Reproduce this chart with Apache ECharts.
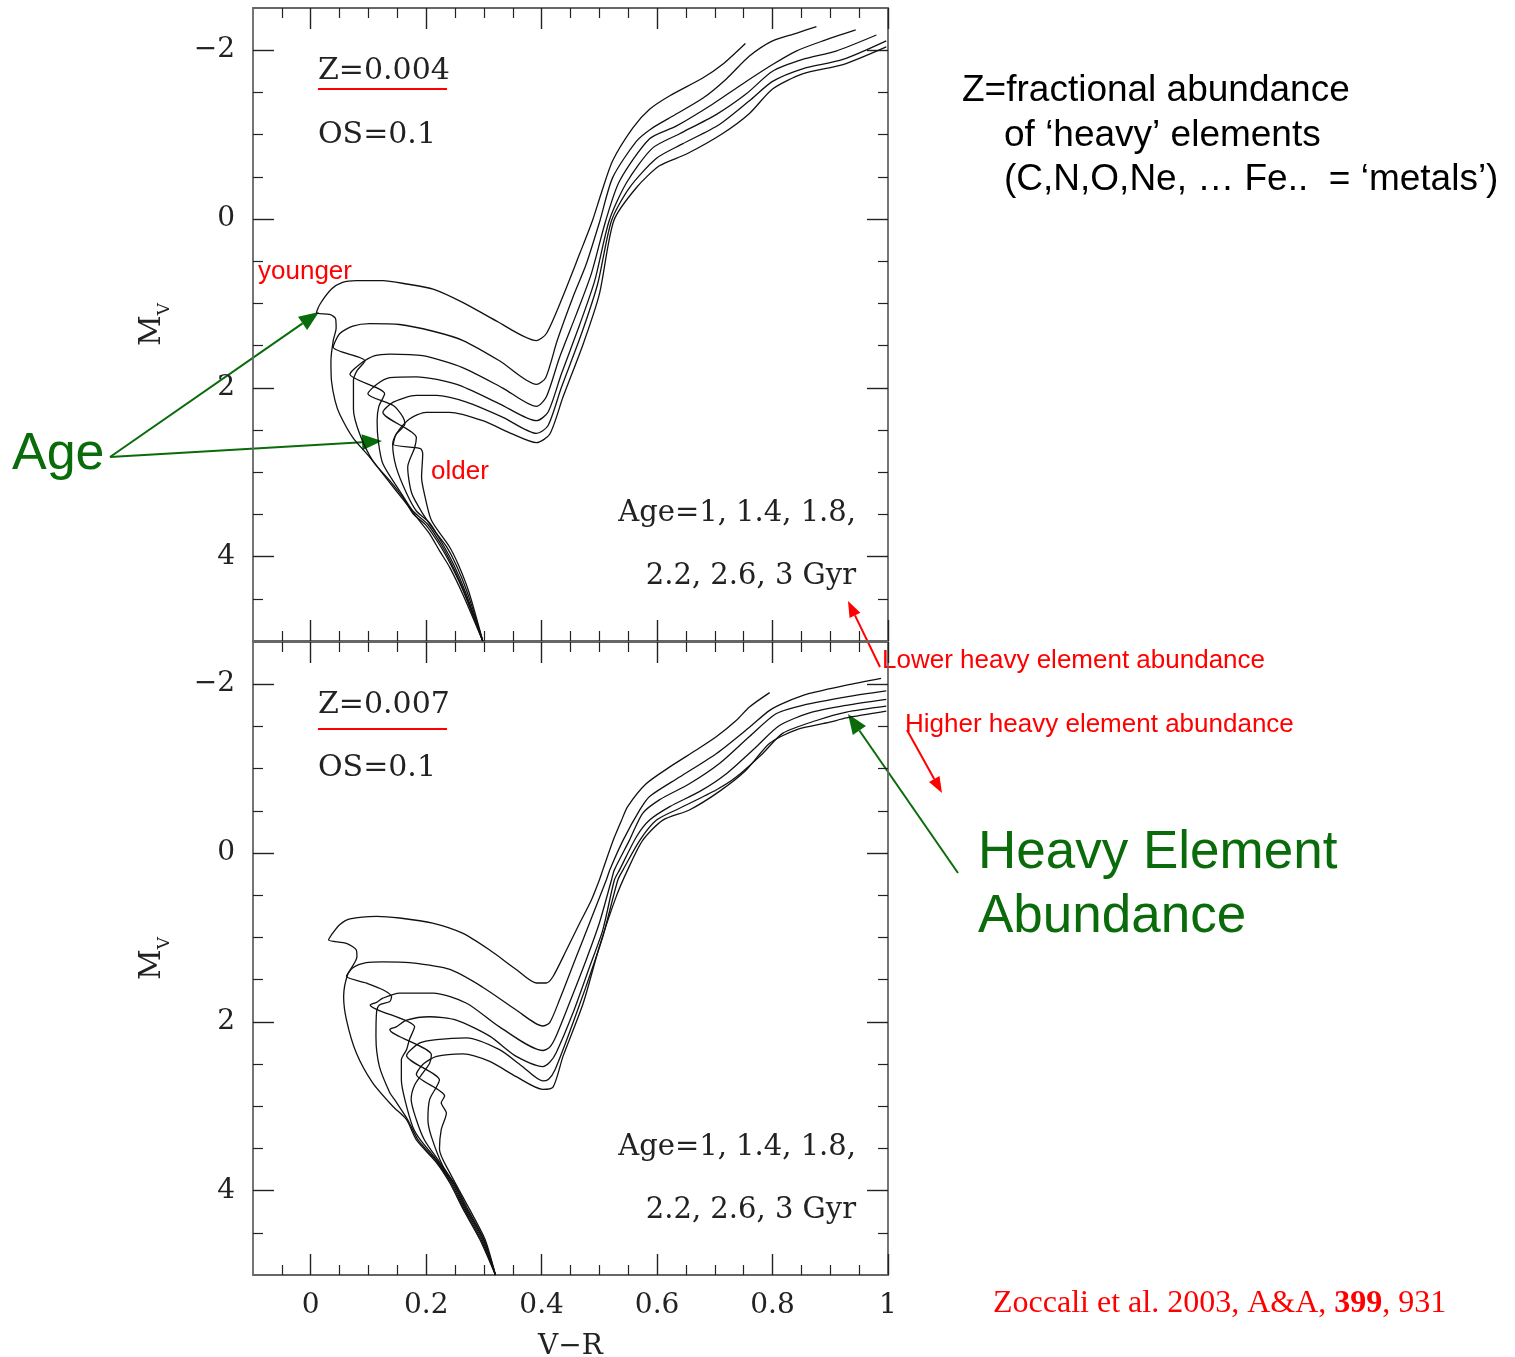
<!DOCTYPE html>
<html><head><meta charset="utf-8">
<script src="https://cdn.jsdelivr.net/npm/echarts@6/dist/echarts.min.js"></script>
<style>html,body{margin:0;padding:0;background:#fff}#c{width:1515px;height:1357px}</style>
</head><body><div id="c"></div><script>
// ---- tick values ----
const xMajor = [0, 0.2, 0.4, 0.6, 0.8, 1.0];
const xMinor = [-0.05, 0.05, 0.1, 0.15, 0.25, 0.3, 0.35, 0.45, 0.5, 0.55, 0.65, 0.7, 0.75, 0.85, 0.9, 0.95];
const yMajor = [-2, 0, 2, 4];
const yMinor = [-1.5, -1, -0.5, 0.5, 1, 1.5, 2.5, 3, 3.5, 4.5];

// ---- Z=0.004 isochrones (V-R, Mv), ages 1,1.4,1.8,2.2,2.6,3 Gyr ----
const z004_1 = [[0.298,5.0],[0.263,4.44],[0.241,4.13],[0.223,3.93],[0.206,3.73],[0.183,3.53],[0.171,3.42],[0.148,3.22],[0.125,3.02],[0.102,2.82],[0.073,2.59],[0.050,2.31],[0.042,2.15],[0.036,1.92],[0.035,1.68],[0.039,1.44],[0.044,1.29],[0.043,1.18],[0.033,1.13],[0.010,1.11],[0.016,1.01],[0.036,0.83],[0.055,0.75],[0.079,0.73],[0.125,0.73],[0.166,0.77],[0.212,0.83],[0.264,0.99],[0.322,1.21],[0.391,1.44],[0.408,1.36],[0.436,0.93],[0.466,0.41],[0.488,0.02],[0.503,-0.30],[0.523,-0.69],[0.558,-1.08],[0.587,-1.30],[0.622,-1.46],[0.679,-1.67],[0.713,-1.83],[0.753,-2.08]];
const z004_14 = [[0.298,5.0],[0.265,4.42],[0.243,4.10],[0.225,3.88],[0.200,3.63],[0.177,3.49],[0.160,3.30],[0.137,3.10],[0.108,2.87],[0.085,2.55],[0.074,2.25],[0.074,1.92],[0.080,1.80],[0.094,1.68],[0.039,1.52],[0.050,1.36],[0.073,1.27],[0.102,1.24],[0.154,1.25],[0.212,1.33],[0.264,1.44],[0.327,1.68],[0.391,1.96],[0.407,1.88],[0.427,1.44],[0.454,0.93],[0.477,0.54],[0.501,0.02],[0.523,-0.49],[0.564,-0.92],[0.590,-1.07],[0.622,-1.20],[0.679,-1.43],[0.720,-1.66],[0.760,-1.93],[0.800,-2.11],[0.841,-2.20],[0.876,-2.28]];
const z004_18 = [[0.298,5.0],[0.266,4.42],[0.245,4.10],[0.228,3.88],[0.203,3.62],[0.177,3.46],[0.154,3.22],[0.125,2.90],[0.117,2.63],[0.115,2.39],[0.118,2.22],[0.128,2.07],[0.068,1.84],[0.085,1.72],[0.111,1.62],[0.137,1.60],[0.194,1.62],[0.263,1.76],[0.332,2.00],[0.391,2.22],[0.408,2.11],[0.431,1.64],[0.460,1.13],[0.486,0.65],[0.511,0.02],[0.535,-0.45],[0.587,-0.95],[0.633,-1.10],[0.696,-1.36],[0.748,-1.60],[0.800,-1.83],[0.841,-1.99],[0.887,-2.11],[0.944,-2.24]];
const z004_22 = [[0.298,5.0],[0.268,4.42],[0.248,4.10],[0.231,3.88],[0.206,3.60],[0.183,3.46],[0.166,3.25],[0.148,2.94],[0.142,2.67],[0.148,2.55],[0.163,2.43],[0.160,2.35],[0.143,2.21],[0.099,2.07],[0.114,1.96],[0.137,1.88],[0.183,1.87],[0.253,1.96],[0.327,2.19],[0.391,2.39],[0.411,2.29],[0.434,1.84],[0.466,1.25],[0.492,0.73],[0.517,0.02],[0.547,-0.43],[0.592,-0.84],[0.639,-1.01],[0.703,-1.24],[0.754,-1.48],[0.800,-1.75],[0.852,-1.89],[0.910,-1.99],[0.980,-2.18]];
const z004_26 = [[0.298,5.0],[0.271,4.42],[0.252,4.10],[0.235,3.88],[0.215,3.70],[0.194,3.49],[0.175,3.25],[0.168,2.94],[0.180,2.71],[0.183,2.59],[0.125,2.29],[0.143,2.17],[0.183,2.09],[0.218,2.09],[0.270,2.17],[0.333,2.35],[0.391,2.54],[0.411,2.45],[0.434,2.00],[0.469,1.36],[0.497,0.77],[0.521,0.02],[0.552,-0.37],[0.599,-0.72],[0.644,-0.89],[0.708,-1.12],[0.760,-1.40],[0.800,-1.63],[0.852,-1.78],[0.922,-1.89],[0.997,-2.11]];
const z004_3 = [[0.298,5.0],[0.274,4.42],[0.256,4.10],[0.240,3.88],[0.209,3.57],[0.197,3.26],[0.192,3.06],[0.194,2.78],[0.190,2.72],[0.143,2.67],[0.148,2.55],[0.171,2.37],[0.200,2.29],[0.241,2.29],[0.298,2.39],[0.350,2.55],[0.391,2.65],[0.414,2.55],[0.437,2.11],[0.472,1.48],[0.500,0.89],[0.525,0.02],[0.564,-0.37],[0.604,-0.63],[0.651,-0.77],[0.713,-1.01],[0.760,-1.25],[0.800,-1.54],[0.852,-1.72],[0.922,-1.83],[0.997,-2.04]];

// ---- Z=0.007 isochrones ----
const z007_1 = [[0.320,5.0],[0.293,4.58],[0.264,4.22],[0.241,3.91],[0.218,3.67],[0.183,3.40],[0.166,3.16],[0.142,3.0],[0.107,2.72],[0.079,2.37],[0.062,1.98],[0.057,1.70],[0.064,1.44],[0.080,1.23],[0.079,1.15],[0.062,1.07],[0.031,1.03],[0.036,0.97],[0.050,0.85],[0.068,0.78],[0.114,0.75],[0.154,0.77],[0.211,0.83],[0.263,0.95],[0.310,1.15],[0.356,1.38],[0.391,1.54],[0.408,1.54],[0.420,1.46],[0.443,1.15],[0.466,0.83],[0.486,0.56],[0.500,0.32],[0.506,0.20],[0.524,-0.15],[0.538,-0.38],[0.549,-0.55],[0.581,-0.82],[0.622,-1.02],[0.668,-1.22],[0.703,-1.38],[0.737,-1.57],[0.760,-1.73],[0.795,-1.90]];
const z007_14 = [[0.320,5.0],[0.295,4.58],[0.266,4.22],[0.243,3.91],[0.220,3.67],[0.186,3.40],[0.168,3.16],[0.145,2.92],[0.137,2.84],[0.119,2.53],[0.113,2.18],[0.114,1.89],[0.119,1.80],[0.137,1.76],[0.140,1.70],[0.125,1.62],[0.096,1.54],[0.062,1.46],[0.073,1.36],[0.096,1.30],[0.125,1.29],[0.171,1.30],[0.241,1.38],[0.298,1.59],[0.356,1.86],[0.402,2.05],[0.414,2.01],[0.431,1.74],[0.460,1.23],[0.483,0.83],[0.512,0.32],[0.518,0.20],[0.541,-0.15],[0.570,-0.51],[0.587,-0.67],[0.639,-0.90],[0.703,-1.18],[0.760,-1.49],[0.795,-1.69],[0.824,-1.79],[0.864,-1.89],[0.928,-1.99],[0.988,-2.07]];
const z007_18 = [[0.320,5.0],[0.297,4.58],[0.268,4.22],[0.245,3.91],[0.222,3.67],[0.190,3.40],[0.177,3.25],[0.163,2.92],[0.157,2.69],[0.157,2.45],[0.166,2.33],[0.171,2.21],[0.180,2.06],[0.103,1.80],[0.114,1.77],[0.125,1.72],[0.154,1.66],[0.212,1.66],[0.270,1.78],[0.327,2.06],[0.402,2.34],[0.414,2.30],[0.425,2.17],[0.448,1.78],[0.477,1.27],[0.500,0.83],[0.521,0.32],[0.526,0.20],[0.552,-0.15],[0.575,-0.47],[0.604,-0.63],[0.656,-0.82],[0.708,-1.06],[0.760,-1.38],[0.806,-1.65],[0.852,-1.75],[0.928,-1.85],[0.997,-1.92]];
const z007_22 = [[0.320,5.0],[0.299,4.58],[0.270,4.22],[0.247,3.91],[0.224,3.67],[0.197,3.40],[0.183,3.16],[0.174,2.92],[0.180,2.75],[0.195,2.60],[0.206,2.49],[0.209,2.39],[0.137,2.09],[0.148,2.06],[0.166,1.98],[0.206,1.94],[0.252,1.98],[0.310,2.17],[0.356,2.41],[0.402,2.53],[0.414,2.48],[0.425,2.37],[0.454,1.90],[0.483,1.35],[0.506,0.91],[0.526,0.32],[0.535,0.20],[0.564,-0.19],[0.587,-0.39],[0.622,-0.55],[0.674,-0.73],[0.720,-0.94],[0.772,-1.26],[0.812,-1.51],[0.864,-1.66],[0.928,-1.75],[0.997,-1.82]];
const z007_26 = [[0.320,5.0],[0.300,4.58],[0.272,4.22],[0.250,3.93],[0.229,3.71],[0.209,3.36],[0.203,3.16],[0.206,2.92],[0.218,2.77],[0.223,2.69],[0.166,2.40],[0.189,2.25],[0.218,2.21],[0.270,2.19],[0.327,2.33],[0.365,2.52],[0.402,2.70],[0.412,2.68],[0.423,2.57],[0.448,2.13],[0.477,1.58],[0.506,0.99],[0.532,0.32],[0.541,0.20],[0.570,-0.15],[0.599,-0.39],[0.639,-0.53],[0.703,-0.75],[0.737,-0.90],[0.783,-1.18],[0.818,-1.42],[0.876,-1.57],[0.928,-1.67],[0.997,-1.74]];
const z007_3 = [[0.320,5.0],[0.302,4.58],[0.275,4.22],[0.241,3.79],[0.223,3.51],[0.226,3.28],[0.235,3.08],[0.226,2.96],[0.232,2.88],[0.183,2.62],[0.195,2.50],[0.218,2.41],[0.264,2.38],[0.310,2.47],[0.356,2.65],[0.402,2.80],[0.420,2.77],[0.437,2.41],[0.472,1.78],[0.500,1.11],[0.529,0.52],[0.549,0.20],[0.575,-0.15],[0.610,-0.39],[0.656,-0.51],[0.708,-0.73],[0.754,-0.98],[0.795,-1.30],[0.841,-1.46],[0.899,-1.55],[0.928,-1.60],[0.997,-1.68]];

const topCurves = [z004_1, z004_14, z004_18, z004_22, z004_26, z004_3];
const botCurves = [z007_1, z007_14, z007_18, z007_22, z007_26, z007_3];

const SERIF = "'DejaVu Serif', serif";
const SANS = "'Liberation Sans', Arial, sans-serif";
const TIMES = "'Liberation Serif', 'Times New Roman', serif";
const FRAME = '#666';
const TICK = '#222';

function xAxesFor(g, labels) {
  const base = {gridIndex: g, type: 'value', min: -0.1, max: 1.0, splitLine: {show: false}};
  const major = (pos, withLabels) => Object.assign({}, base, {
    position: pos,
    axisLine: {show: true, onZero: false, lineStyle: {color: FRAME, width: 1.8}},
    axisTick: {show: true, inside: true, length: 21, customValues: xMajor, lineStyle: {color: TICK, width: 1.4}},
    axisLabel: {show: withLabels, customValues: xMajor, margin: 17, fontFamily: SERIF, fontSize: 28, color: '#222',
      formatter: v => String(+(+v).toFixed(1))},
    name: withLabels ? 'V\u2212R' : '', nameLocation: 'middle', nameGap: 58,
    nameTextStyle: {fontFamily: SERIF, fontSize: 28, color: '#222'}
  });
  const minor = (pos) => Object.assign({}, base, {
    position: pos,
    axisLine: {show: false, onZero: false},
    axisTick: {show: true, inside: true, length: 10, customValues: xMinor, lineStyle: {color: TICK, width: 1.2}},
    axisLabel: {show: false}
  });
  return [major('bottom', labels), minor('bottom'), major('top', false), minor('top')];
}
function yAxesFor(g) {
  const base = {gridIndex: g, type: 'value', min: -2.5, max: 5, inverse: true, splitLine: {show: false}};
  const major = (pos, withLabels) => Object.assign({}, base, {
    position: pos,
    axisLine: {show: true, onZero: false, lineStyle: {color: FRAME, width: 1.8}},
    axisTick: {show: true, inside: true, length: 21, customValues: yMajor, lineStyle: {color: TICK, width: 1.4}},
    axisLabel: {show: withLabels, customValues: yMajor, margin: 18, fontFamily: SERIF, fontSize: 28, color: '#222',
      formatter: v => (v < 0 ? '\u2212' + (-v) : String(v))},
    name: withLabels ? '{m|M}{s|V}' : '', nameLocation: 'middle', nameGap: 80, nameRotate: 90,
    nameTextStyle: {rich: {
      m: {fontFamily: SERIF, fontSize: 30, color: '#222', verticalAlign: 'bottom', lineHeight: 36, padding: [0, 0, 6, 0]},
      s: {fontFamily: SERIF, fontSize: 17, color: '#222', verticalAlign: 'bottom', lineHeight: 36}
    }}
  });
  const minor = (pos) => Object.assign({}, base, {
    position: pos,
    axisLine: {show: false, onZero: false},
    axisTick: {show: true, inside: true, length: 10, customValues: yMinor, lineStyle: {color: TICK, width: 1.2}},
    axisLabel: {show: false}
  });
  return [major('left', true), minor('left'), major('right', false), minor('right')];
}

function arrow(x1, y1, x2, y2, color, w, L, W) {
  const a = Math.atan2(y2 - y1, x2 - x1);
  const bx = x2 - L * Math.cos(a), by = y2 - L * Math.sin(a);
  const px = -Math.sin(a), py = Math.cos(a);
  return [
    {type: 'line', silent: true, shape: {x1: x1, y1: y1, x2: bx, y2: by}, style: {stroke: color, lineWidth: w}},
    {type: 'polygon', silent: true, shape: {points: [[x2, y2], [bx + px * W, by + py * W], [bx - px * W, by - py * W]]}, style: {fill: color}}
  ];
}
function txt(text, x, y, font, size, color, align, extra) {
  return {type: 'text', silent: true, style: Object.assign({
    text: text, x: x, y: y, fill: color, fontFamily: font, fontSize: size,
    align: align || 'left', textAlign: align || 'left', verticalAlign: 'middle', textVerticalAlign: 'middle'
  }, extra || {})};
}

const GREEN = '#0a6b0a';
const RED = '#ff0000';
const graphics = [].concat(
  [txt('Z=0.004', 318, 71, SERIF, 30, '#222'),
   {type: 'line', silent: true, shape: {x1: 318, y1: 89, x2: 447, y2: 89}, style: {stroke: RED, lineWidth: 2}},
   txt('OS=0.1', 318, 135, SERIF, 30, '#222'),
   txt('Age=1, 1.4, 1.8,', 856, 513, SERIF, 29, '#222', 'right'),
   txt('2.2, 2.6, 3 Gyr', 856, 576, SERIF, 29, '#222', 'right'),
   txt('Z=0.007', 318, 705, SERIF, 30, '#222'),
   {type: 'line', silent: true, shape: {x1: 318, y1: 729, x2: 447, y2: 729}, style: {stroke: RED, lineWidth: 2}},
   txt('OS=0.1', 318, 768, SERIF, 30, '#222'),
   txt('Age=1, 1.4, 1.8,', 856, 1147, SERIF, 29, '#222', 'right'),
   txt('2.2, 2.6, 3 Gyr', 856, 1210, SERIF, 29, '#222', 'right'),
   txt('younger', 258, 272, SANS, 26, RED),
   txt('older', 431, 472, SANS, 26, RED),
   txt('Lower heavy element abundance', 882, 661, SANS, 26, RED),
   txt('Higher heavy element abundance', 905, 725, SANS, 26, RED),
   txt('Age', 12, 455, SANS, 52, GREEN),
   txt('Heavy Element', 978, 853, SANS, 53, GREEN),
   txt('Abundance', 978, 917, SANS, 53, GREEN),
   txt('Z=fractional abundance', 962, 91, SANS, 37, '#000'),
   txt('of \u2018heavy\u2019 elements', 1004, 136, SANS, 37, '#000'),
   txt('(C,N,O,Ne, \u2026 Fe..  = \u2018metals\u2019)', 1004, 180, SANS, 37, '#000'),
   {type: 'text', silent: true, style: {
     text: '{a|Zoccali et al. 2003, A&A, }{b|399}{a|, 931}', x: 993, y: 1304, fill: RED,
     align: 'left', textAlign: 'left', verticalAlign: 'middle', textVerticalAlign: 'middle',
     rich: {a: {fontFamily: TIMES, fontSize: 32, fill: RED, color: RED},
            b: {fontFamily: TIMES, fontSize: 32, fill: RED, color: RED, fontWeight: 'bold'}}
   }}],
  arrow(110, 457, 319, 312, GREEN, 2, 20, 8),
  arrow(110, 457, 382, 441, GREEN, 2, 20, 8),
  arrow(958, 873, 848, 714, GREEN, 2, 20, 8),
  arrow(880, 667, 848, 601, RED, 2, 16, 6),
  arrow(907, 730, 942, 793, RED, 2, 16, 6)
);

const series = [];
topCurves.forEach(d => series.push({type: 'line', xAxisIndex: 0, yAxisIndex: 0, data: d, symbol: 'none', showSymbol: false, smooth: 0.25, silent: true, lineStyle: {color: '#111', width: 1.3}}));
botCurves.forEach(d => series.push({type: 'line', xAxisIndex: 4, yAxisIndex: 4, data: d, symbol: 'none', showSymbol: false, smooth: 0.25, silent: true, lineStyle: {color: '#111', width: 1.3}}));

const chart = echarts.init(document.getElementById('c'), null, {renderer: 'canvas'});
chart.setOption({
  animation: false,
  backgroundColor: '#fff',
  grid: [
    {left: 253, top: 8, width: 635, height: 633, containLabel: false, outerBoundsMode: 'none'},
    {left: 253, top: 642, width: 635, height: 633, containLabel: false, outerBoundsMode: 'none'}
  ],
  xAxis: xAxesFor(0, false).concat(xAxesFor(1, true)),
  yAxis: yAxesFor(0).concat(yAxesFor(1)),
  series: series,
  graphic: graphics
});
</script></body></html>
